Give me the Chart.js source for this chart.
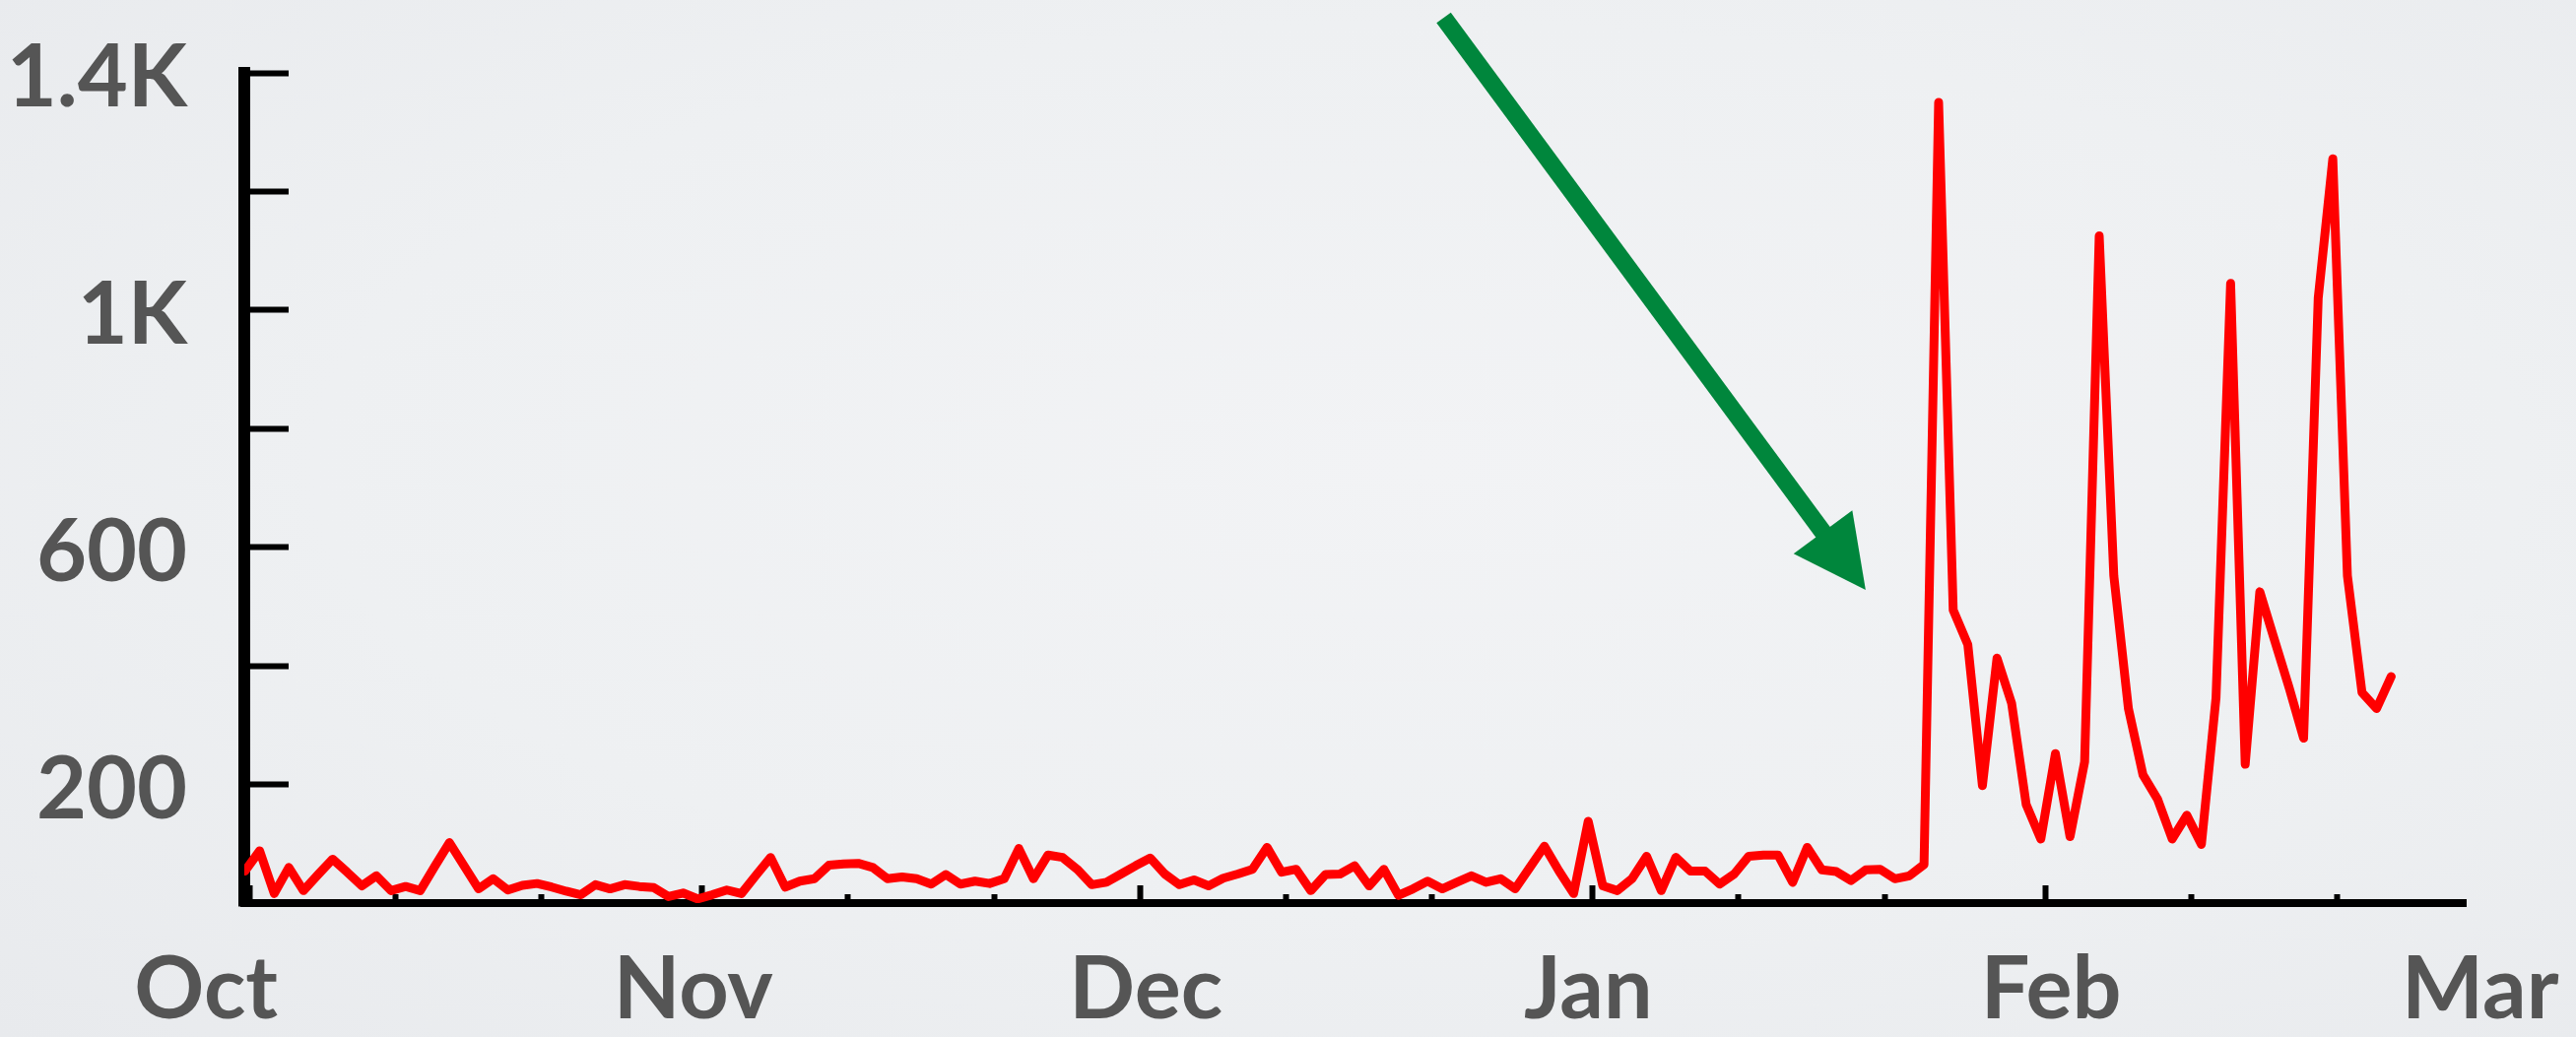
<!DOCTYPE html>
<html>
<head>
<meta charset="utf-8">
<script src="https://cdn.jsdelivr.net/npm/chart.js@4.4.1/dist/chart.umd.min.js"></script>
<style>
  html, body { margin: 0; padding: 0; width: 2615px; height: 1053px; overflow: hidden; }
  body { background: radial-gradient(ellipse at 55% 45%, #f2f3f5 0%, #eef0f2 55%, #e8eaed 100%); }
  canvas { display: block; }
</style>
</head>
<body>
<canvas id="chart" width="2615" height="1053"></canvas>
<script>
// ---- data (daily values from Oct 1 onward) ----
const dailyValues = [
  54, 88, 16, 60, 21, 48, 74, 52, 29, 46,
  21, 28, 21, 62, 102, 63, 24, 41, 22, 30,
  33, 27, 20, 14, 31, 24, 31, 28, 26, 11,
  17, 7, 14, 22, 16, 47, 77, 27, 37, 41,
  64, 66, 67, 60, 41, 44, 41, 32, 48, 32,
  37, 33, 41, 92, 41, 81, 77, 57, 31, 35,
  49, 63, 76, 49, 31, 39, 29, 42, 49, 57,
  94, 52, 57, 21, 48, 49, 63, 29, 57, 13,
  24, 37, 24, 35, 46, 35, 41, 24, 60, 96,
  54, 16, 138, 29, 21, 41, 79, 21, 77, 54,
  54, 32, 49, 79, 81, 81, 35, 94, 56, 53,
  38, 56, 57, 41, 46, 65, 1350, 494, 436, 198,
  413, 337, 166, 108, 252, 112, 238, 1125, 552, 328,
  216, 175, 108, 148, 99, 346, 1045, 234, 525, 444,
  364, 278, 1020, 1255, 552, 355, 328, 382
];
const monthLabels = ['Oct', 'Nov', 'Dec', 'Jan', 'Feb', 'Mar'];
const monthStartDays = [0, 31, 61, 92, 123, 151];
const tickDays = [0, 10, 20, 31, 41, 51, 61, 71, 81, 92, 102, 112, 123, 133, 143];
const yTickValues = [0, 200, 400, 600, 800, 1000, 1200, 1400];
const yTickLabels = ['', '200', '', '600', '', '1K', '', '1.4K'];
const arrowFrom = { x: 81.8, y: 1493 };
const arrowTo = { x: 110.7, y: 528 };

// ---- layout / style constants ----
const DAY_SHIFT = -0.3;                       // point placement within a day
const LABEL_SHIFT = [-2.97, -0.6, 0.4, -0.3, 0.4, 1.8]; // label nudges (days)
const FONT = { family: "Lato, 'Open Sans', sans-serif", weight: 'bold', size: 88 };
const TEXT = '#555555';
const nLabels = monthLabels.length;
const majorSet = new Set(monthStartDays);

const arrowPlugin = {
  id: 'greenArrow',
  afterDraw(chart) {
    const { ctx, scales: { x, y } } = chart;
    const x0 = x.getPixelForValue(arrowFrom.x), y0 = y.getPixelForValue(arrowFrom.y);
    const x1 = x.getPixelForValue(arrowTo.x), y1 = y.getPixelForValue(arrowTo.y);
    const a = Math.atan2(y1 - y0, x1 - x0);
    const headLen = 73, headHalf = 37, shaft = 18;
    const bx = x1 - headLen * Math.cos(a), by = y1 - headLen * Math.sin(a);
    ctx.save();
    ctx.strokeStyle = '#00863c';
    ctx.fillStyle = '#00863c';
    ctx.lineWidth = shaft;
    ctx.lineCap = 'butt';
    ctx.beginPath();
    ctx.moveTo(x0, y0);
    ctx.lineTo(bx + 3 * Math.cos(a), by + 3 * Math.sin(a));
    ctx.stroke();
    ctx.beginPath();
    ctx.moveTo(x1, y1);
    ctx.lineTo(bx + headHalf * Math.sin(a), by - headHalf * Math.cos(a));
    ctx.lineTo(bx - headHalf * Math.sin(a), by + headHalf * Math.cos(a));
    ctx.closePath();
    ctx.fill();
    ctx.restore();
  }
};

new Chart(document.getElementById('chart'), {
  type: 'line',
  data: {
    datasets: [{
      data: dailyValues.map((v, i) => ({ x: i + DAY_SHIFT, y: v })),
      borderColor: '#ff0000',
      borderWidth: 9,
      pointRadius: 0,
      tension: 0,
      fill: false,
      borderJoinStyle: 'round',
      borderCapStyle: 'round'
    }]
  },
  options: {
    responsive: false,
    animation: false,
    devicePixelRatio: 1,
    layout: { padding: { top: 74, right: 112, bottom: 0, left: 0 } },
    plugins: { legend: { display: false }, tooltip: { enabled: false } },
    scales: {
      x: {
        type: 'linear',
        position: 'bottom',
        min: -0.35,
        max: 151.8,
        bounds: 'data',
        border: { display: true, color: '#000000', width: 8 },
        grid: {
          display: true,
          drawOnChartArea: false,
          drawTicks: true,
          tickLength: -18,
          tickWidth: c => (c.index < nLabels ? 0 : 6),
          tickColor: c => (c.index < nLabels ? 'rgba(0,0,0,0)' : '#000000'),
          tickBorderDash: c => (c.index < nLabels || majorSet.has(c.tick.value) ? [] : [13, 400])
        },
        ticks: {
          autoSkip: false,
          maxRotation: 0,
          minRotation: 0,
          padding: 54,
          color: TEXT,
          font: FONT,
          callback: (v, i) => (i < nLabels ? monthLabels[i] : '')
        },
        afterBuildTicks: s => {
          const anchors = monthStartDays.map((d, i) => ({ value: d + LABEL_SHIFT[i] }));
          const marks = tickDays.map(d => ({ value: d }));
          s.ticks = anchors.concat(marks);
        },
        afterFit: s => { s.height = 136; s.paddingLeft = 0; s.paddingRight = 0; }
      },
      y: {
        type: 'linear',
        position: 'left',
        min: 0,
        max: 1400,
        border: { display: true, color: '#000000', width: 12 },
        grid: {
          display: true,
          drawOnChartArea: false,
          drawTicks: true,
          tickLength: -45,
          tickWidth: 6,
          tickColor: '#000000'
        },
        ticks: {
          autoSkip: false,
          padding: 103,
          labelOffset: 6,
          color: TEXT,
          font: FONT,
          callback: (v, i) => yTickLabels[i]
        },
        afterBuildTicks: s => { s.ticks = yTickValues.map(v => ({ value: v })); },
        afterFit: s => { s.width = 248; s.paddingTop = 0; s.paddingBottom = 0; }
      }
    }
  },
  plugins: [arrowPlugin]
});
</script>
</body>
</html>
